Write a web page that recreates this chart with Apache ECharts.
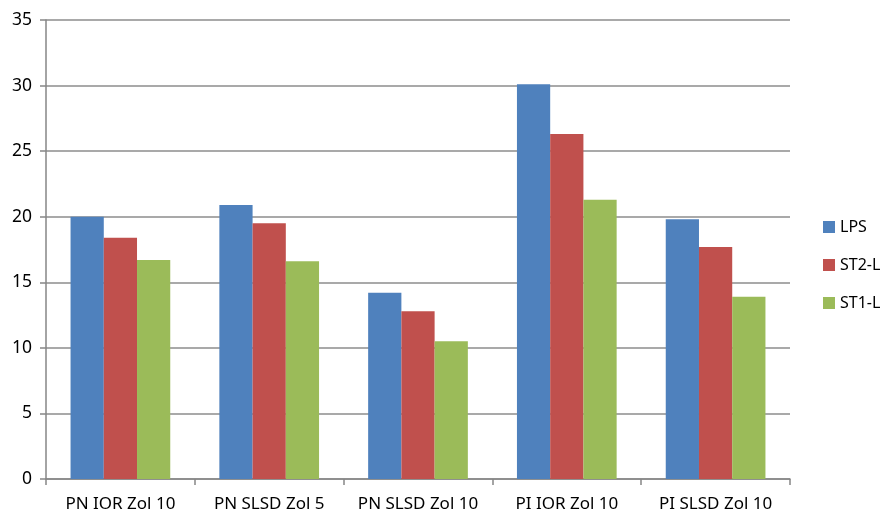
<!DOCTYPE html>
<html><head><meta charset="utf-8">
<script src="https://cdn.jsdelivr.net/npm/echarts@6/dist/echarts.min.js"></script>
<style>html,body{margin:0;padding:0;background:#fff}#c{width:890px;height:513px}</style>
</head><body><div id="c"></div>
<script>
const categories = ['PN IOR Zol 10', 'PN SLSD Zol 5', 'PN SLSD Zol 10', 'PI IOR Zol 10', 'PI SLSD Zol 10'];
const seriesNames = ['LPS', 'ST2-L', 'ST1-L'];
const lps = [20.0, 20.9, 14.2, 30.1, 19.8];
const st2l = [18.4, 19.5, 12.8, 26.3, 17.7];
const st1l = [16.7, 16.6, 10.5, 21.3, 13.9];
const colors = ['#4F81BD', '#C0504D', '#9BBB59'];
const values = [lps, st2l, st1l];

const chart = echarts.init(document.getElementById('c'), null, {renderer: 'canvas'});
const font = 'Noto Sans, Open Sans, sans-serif';
chart.setOption({
  animation: false,
  textStyle: {fontFamily: font},
  grid: {left: 46, top: 20, right: 100, bottom: 34, containLabel: false},
  legend: {
    orient: 'vertical', top: 214, left: 818, itemWidth: 12, itemHeight: 12, itemGap: 22,
    icon: 'rect',
    textStyle: {fontSize: 16, color: '#000', fontFamily: font},
    data: seriesNames
  },
  xAxis: {
    type: 'category', data: categories,
    axisLine: {lineStyle: {color: '#868686', width: 1.5}},
    axisTick: {show: true, length: 6, alignWithLabel: false, lineStyle: {color: '#868686', width: 1.5}},
    axisLabel: {fontSize: 17, color: '#000', margin: 17, fontFamily: font, interval: 0, hideOverlap: false}
  },
  yAxis: {
    type: 'value', min: 0, max: 35, interval: 5,
    axisLine: {show: true, lineStyle: {color: '#868686', width: 1.5}},
    axisTick: {show: true, length: 6, lineStyle: {color: '#868686', width: 1.5}},
    axisLabel: {fontSize: 17.5, color: '#000', margin: 14, fontFamily: font},
    splitLine: {lineStyle: {color: '#8c8c8c', width: 1.5}}
  },
  series: seriesNames.map((n, i) => ({
    name: n, type: 'bar', data: values[i], barGap: '0%', barCategoryGap: '33%',
    itemStyle: {color: colors[i]}
  }))
});
</script></body></html>
